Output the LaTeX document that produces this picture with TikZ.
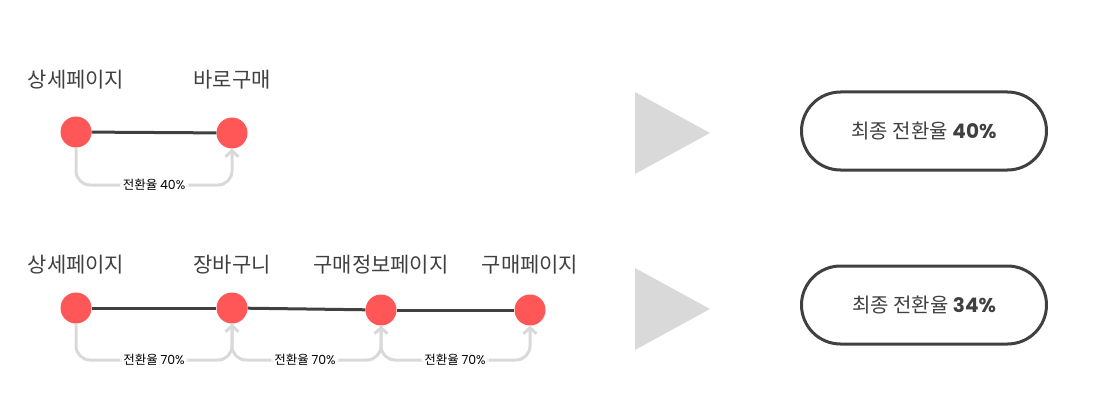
\documentclass[tikz,border=0pt]{standalone}
\usepackage{fontspec}
\setmainfont{Noto Sans CJK KR}
\newfontfamily\numfont{Poppins}
\usepackage{tikz}
\usetikzlibrary{arrows.meta,positioning}
\definecolor{dotred}{HTML}{FF5757}
\definecolor{linegray}{HTML}{404040}
\definecolor{softgray}{HTML}{D9D9D9}

\begin{document}
\begin{tikzpicture}[x=1pt, y=-1pt,
  dot/.style={circle, fill=dotred, minimum size=31pt, inner sep=0pt},
  page/.style={font=\fontsize{21}{25}\selectfont, text=linegray},
  flow/.style={draw=linegray, line width=3pt},
  conv/.style={draw=softgray, line width=3pt, rounded corners=14pt, -{Straight Barb[length=6pt, width=13pt, line width=3pt]}},
  lab/.style={fill=white, font=\fontsize{12.5}{15}\selectfont, inner sep=3pt},
  tri/.style={fill=softgray},
  pill/.style={draw=linegray, line width=3pt, rounded corners=39pt, minimum width=245pt, minimum height=78pt, font=\fontsize{20}{24}\selectfont, text=linegray}]
\useasboundingbox (0,0) rectangle (1101,412);
% first funnel
\node[dot] (a1) at (76,132) {};
\node[dot] (a2) at (232,133) {};
\node[page] (ta1) at (76,80) {상세페이지};
\node[page] (ta2) at (232,80) {바로구매};
\draw[flow] (a1) -- (a2);
\coordinate (ma1) at (154,185);
\draw[conv] (a1.south) |- (ma1) node[lab]{전환율 {\numfont 40\%}} -| (a2.south);
% second funnel
\node[dot] (b1) at (76,308) {};
\node[dot] (b2) at (232,308) {};
\node[dot] (b3) at (381,310) {};
\node[dot] (b4) at (530,310) {};
\node[page] (tb1) at (76,265) {상세페이지};
\node[page] (tb2) at (232,265) {장바구니};
\node[page] (tb3) at (381,265) {구매정보페이지};
\node[page] (tb4) at (530,265) {구매페이지};
\draw[flow] (b1) -- (b2);
\draw[flow] (b2) -- (b3);
\draw[flow] (b3) -- (b4);
\coordinate (mb1) at (154,360);
\coordinate (mb2) at (305,360);
\coordinate (mb3) at (455,360);
\draw[conv] (b1.south) |- (mb1) node[lab]{전환율 {\numfont 70\%}} -| (b2.south);
\draw[conv] (b2.south) |- (mb2) node[lab]{전환율 {\numfont 70\%}} -| (b3.south);
\draw[conv] (b3.south) |- (mb3) node[lab]{전환율 {\numfont 70\%}} -| (b4.south);
% results
\fill[tri] (635,92) -- (635,174) -- (710,133) -- cycle;
\fill[tri] (635,268) -- (635,350) -- (710,309) -- cycle;
\node[pill] (ra) at (924,131) {최종 전환율 {\numfont\bfseries 40\%}};
\node[pill] (rb) at (924,305) {최종 전환율 {\numfont\bfseries 34\%}};
\end{tikzpicture}
\end{document}
